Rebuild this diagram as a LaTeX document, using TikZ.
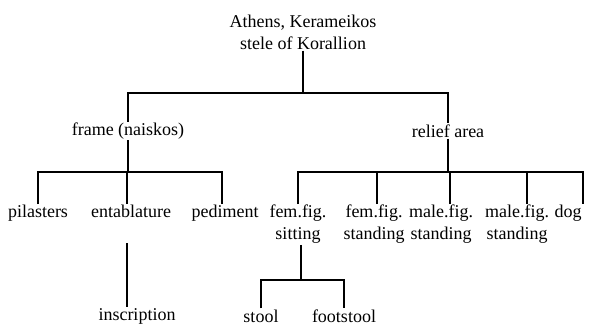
\documentclass[tikz,border=0pt]{standalone}
\usepackage{fontspec}
\setmainfont{Liberation Serif}
\usetikzlibrary{calc}
\tikzset{
	lbl/.style={font=\fontsize{18}{22}\selectfont, inner sep=1pt, align=center},
	branch/.style={line width=0.6mm}
}

\begin{document}
\begin{tikzpicture}[x=1pt, y=-1pt]
		%%%%% START %%%%%
		\useasboundingbox (0,0) rectangle (598,327);
		
		\node[lbl] (stele) at (303,32) {Athens, Kerameikos\\stele of Korallion};
		
		\node[lbl] (frame) at (128,131) {frame (naiskos)};
		\node[lbl] (relief) at (448,131) {relief area};
		
		\node[lbl, anchor=north] (pil) at (38,204) {pilasters};
		\node[lbl, anchor=north] (ent) at (131,204) {entablature};
		\node[lbl, anchor=north] (ped) at (225,204) {pediment};
		\node[lbl, anchor=north] (sit) at (298,204) {fem.fig.\\sitting};
		\node[lbl, anchor=north] (fstand) at (374,204) {fem.fig.\\standing};
		\node[lbl, anchor=north] (mstand) at (441,204) {male.fig.\\standing};
		\node[lbl, anchor=north] (mstandb) at (517,204) {male.fig.\\standing};
		\node[lbl, anchor=north] (dog) at (568,204) {dog};
		
		\node[lbl] (insc) at (137,316) {inscription};
		\node[lbl] (stool) at (261,316) {stool};
		\node[lbl] (foot) at (344,316) {footstool};
		
		\coordinate (j0) at (302,93);
		\coordinate (j1) at (127,172);
		\coordinate (j2) at (450,172);
		\coordinate (j3) at (301,280);
		
		\draw[branch] (stele.south) -- (stele.south |- j0);
		\draw[branch] (frame.north) |- (j0) -| (relief.north);
		
		\draw[branch] (frame.south) -- (frame.south |- j1);
		\draw[branch] (pil.north) |- (j1) -| ([xshift=-3pt]ped.north);
		\draw[branch] ([xshift=-4pt]ent.north) -- ([xshift=-4pt]ent.north |- j1);
		
		\draw[branch] (relief.south) -- (relief.south |- j2);
		\draw[branch] (sit.north) |- (j2) -| ([xshift=15pt]dog.north);
		\draw[branch] ([xshift=3pt]fstand.north) -- ([xshift=3pt]fstand.north |- j2);
		\draw[branch] ([xshift=9pt]mstand.north) -- ([xshift=9pt]mstand.north |- j2);
		\draw[branch] ([xshift=10pt]mstandb.north) -- ([xshift=10pt]mstandb.north |- j2);
		
		\draw[branch, shorten <=24pt] ([xshift=-4pt]ent.south) -- ([xshift=-10pt]insc.north);
		
		\draw[branch] ([xshift=3pt]sit.south) -- (j3);
		\draw[branch] (stool.north) |- (j3) -| (foot.north);
		
		%%%%% END %%%%%
\end{tikzpicture}
\end{document}
